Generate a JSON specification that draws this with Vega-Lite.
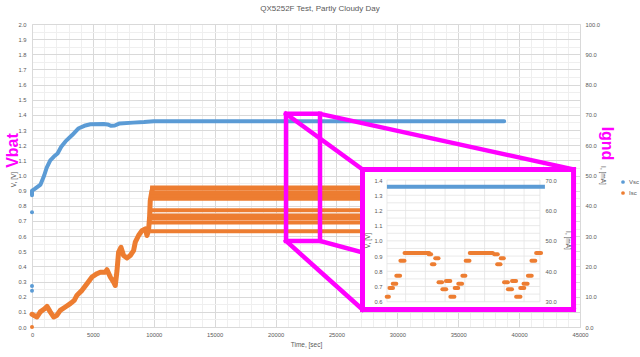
{
  "$schema": "https://vega.github.io/schema/vega-lite/v6.json",
  "width": 548,
  "height": 303,
  "autosize": {"type": "none"},
  "padding": {"left": 32, "top": 24, "right": 60, "bottom": 30},
  "background": "white",
  "title": {"text": "QX5252F Test, Partly Cloudy Day", "fontSize": 8, "color": "#595959", "fontWeight": "normal", "font": "Liberation Sans", "dx": 14, "offset": 8, "anchor": "middle"},
  "config": {
    "view": {"stroke": null},
    "axis": {"labelFont": "Liberation Sans", "labelFontSize": 5.8, "labelColor": "#595959", "titleFont": "Liberation Sans", "titleFontSize": 6.5, "titleColor": "#595959", "titleFontWeight": "normal", "ticks": false, "labelOverlap": false, "labelFlush": false},
    "legend": {"labelFont": "Liberation Sans"}
  },
  "resolve": {"scale": {"x": "independent", "y": "independent"}, "axis": {"x": "independent", "y": "independent"}},
  "datasets": {
    "blue": [
      {"t": 0, "v": 0.87}, {"t": 0, "v": 0.9}, {"t": 200, "v": 0.91}, {"t": 450, "v": 0.925}, {"t": 700, "v": 0.94},
      {"t": 850, "v": 0.97}, {"t": 1000, "v": 1.0}, {"t": 1200, "v": 1.05}, {"t": 1500, "v": 1.1}, {"t": 1800, "v": 1.125},
      {"t": 2100, "v": 1.145}, {"t": 2400, "v": 1.19}, {"t": 2750, "v": 1.225}, {"t": 3300, "v": 1.267}, {"t": 3800, "v": 1.31},
      {"t": 4300, "v": 1.328}, {"t": 4800, "v": 1.338}, {"t": 5900, "v": 1.34}, {"t": 6200, "v": 1.337}, {"t": 6500, "v": 1.328},
      {"t": 6800, "v": 1.33}, {"t": 7200, "v": 1.344}, {"t": 8300, "v": 1.349}, {"t": 9200, "v": 1.353}, {"t": 10000, "v": 1.358},
      {"t": 20000, "v": 1.358}, {"t": 30000, "v": 1.358}, {"t": 38775, "v": 1.358}
    ],
    "bluePts": [
      {"t": 0, "v": 0.24, "series": "Vsc"}, {"t": 0, "v": 0.27, "series": "Vsc"}, {"t": 0, "v": 0.757, "series": "Vsc"}
    ],
    "orange": [
      {"t": 0, "i": 4.2}, {"t": 130, "i": 3.9}, {"t": 410, "i": 3.3}, {"t": 680, "i": 5.0}, {"t": 1035, "i": 6.0},
      {"t": 1230, "i": 6.8}, {"t": 1500, "i": 5.0}, {"t": 1775, "i": 3.3}, {"t": 2050, "i": 3.9}, {"t": 2320, "i": 5.5},
      {"t": 2735, "i": 6.6}, {"t": 3145, "i": 7.7}, {"t": 3470, "i": 8.8}, {"t": 3695, "i": 10.5}, {"t": 4105, "i": 12.1},
      {"t": 4515, "i": 14.3}, {"t": 4925, "i": 16.5}, {"t": 5335, "i": 17.6}, {"t": 5605, "i": 18.1}, {"t": 6015, "i": 18.1},
      {"t": 6160, "i": 18.9}, {"t": 6430, "i": 16.5}, {"t": 6700, "i": 14.8}, {"t": 6840, "i": 13.7}, {"t": 6980, "i": 18.6},
      {"t": 7110, "i": 24.7}, {"t": 7305, "i": 26.3}, {"t": 7520, "i": 23.6}, {"t": 7800, "i": 22.8}, {"t": 8070, "i": 23.6},
      {"t": 8340, "i": 25.2}, {"t": 8480, "i": 28.0}, {"t": 8750, "i": 30.2}, {"t": 9030, "i": 31.8}, {"t": 9300, "i": 32.4},
      {"t": 9440, "i": 30.2}, {"t": 9570, "i": 31.8}, {"t": 9655, "i": 36.2}, {"t": 9710, "i": 41.7}, {"t": 9850, "i": 45.0}
    ],
    "orangePts": [{"t": 0, "i": 0, "series": "Isc"}],
    "bands": [
      {"t0": 9700, "t1": 38775, "i": 31.6}, {"t0": 9700, "t1": 38775, "i": 34.5}, {"t0": 9700, "t1": 38775, "i": 35.9},
      {"t0": 9700, "t1": 38775, "i": 36.4}, {"t0": 9700, "t1": 38775, "i": 36.8}, {"t0": 9700, "t1": 38775, "i": 38.5},
      {"t0": 9700, "t1": 38775, "i": 42.3}, {"t0": 9700, "t1": 38775, "i": 43.5}, {"t0": 9700, "t1": 38775, "i": 44.3},
      {"t0": 9700, "t1": 38775, "i": 45.6}, {"t0": 9700, "t1": 38775, "i": 46.0}
    ],
    "zoomBox": [{"t0": 20860, "t1": 23650, "v0": 0.568, "v1": 1.407}],
    "links": [
      {"t0": 20860, "v0": 1.407, "t1": 27140, "v1": 1.04},
      {"t0": 23650, "v0": 1.407, "t1": 44470, "v1": 1.04},
      {"t0": 20860, "v0": 0.568, "t1": 27140, "v1": 0.1155},
      {"t0": 23650, "v0": 0.568, "t1": 44470, "v1": 0.1155}
    ],
    "insetBox": [{"t0": 27140, "t1": 44470, "v0": 0.1155, "v1": 1.04}],
    "insetGridH": [
      {"v": 0.6}, {"v": 0.65}, {"v": 0.7}, {"v": 0.75}, {"v": 0.8}, {"v": 0.85}, {"v": 0.9}, {"v": 0.95}, {"v": 1.0},
      {"v": 1.05}, {"v": 1.1}, {"v": 1.15}, {"v": 1.2}, {"v": 1.25}, {"v": 1.3}, {"v": 1.35}, {"v": 1.4}
    ],
    "insetGridV": [
      {"t": 20860}, {"t": 21200}, {"t": 21560}, {"t": 21920}, {"t": 22280}, {"t": 22640}, {"t": 23000}, {"t": 23360}, {"t": 23650}
    ],
    "insetBlue": [{"t": 20860, "v": 1.355}, {"t": 23740, "v": 1.355}],
    "insetDash": [
      {"t0": 20855, "t1": 20895, "i": 31.6}, {"t0": 20905, "t1": 20970, "i": 34.5}, {"t0": 20965, "t1": 21030, "i": 35.9},
      {"t0": 21030, "t1": 21100, "i": 38.5}, {"t0": 21105, "t1": 21180, "i": 43.5}, {"t0": 21180, "t1": 21630, "i": 46.0},
      {"t0": 21620, "t1": 21665, "i": 45.6}, {"t0": 21680, "t1": 21725, "i": 42.3}, {"t0": 21740, "t1": 21800, "i": 44.3},
      {"t0": 21800, "t1": 21865, "i": 36.4}, {"t0": 21870, "t1": 21940, "i": 34.1}, {"t0": 21935, "t1": 22015, "i": 36.8},
      {"t0": 22015, "t1": 22090, "i": 31.6}, {"t0": 22095, "t1": 22160, "i": 34.5}, {"t0": 22160, "t1": 22230, "i": 35.9},
      {"t0": 22235, "t1": 22290, "i": 38.5}, {"t0": 22295, "t1": 22365, "i": 43.5}, {"t0": 22370, "t1": 22790, "i": 46.0},
      {"t0": 22815, "t1": 22880, "i": 45.6}, {"t0": 22870, "t1": 22930, "i": 42.3}, {"t0": 22935, "t1": 22990, "i": 44.3},
      {"t0": 22995, "t1": 23065, "i": 36.4}, {"t0": 23065, "t1": 23140, "i": 34.1}, {"t0": 23140, "t1": 23215, "i": 36.8},
      {"t0": 23215, "t1": 23295, "i": 31.6}, {"t0": 23290, "t1": 23365, "i": 34.5}, {"t0": 23350, "t1": 23425, "i": 35.9},
      {"t0": 23430, "t1": 23500, "i": 38.5}, {"t0": 23495, "t1": 23565, "i": 43.5}, {"t0": 23580, "t1": 23670, "i": 46.0}
    ]
  },
  "layer": [
    {
      "data": {"name": "blue"},
      "mark": {"type": "line", "color": "#5B9BD5", "strokeWidth": 4, "strokeCap": "round", "strokeJoin": "round"},
      "encoding": {
        "x": {"field": "t", "type": "quantitative", "scale": {"domain": [0, 45000], "nice": false, "zero": false},
          "axis": {"orient": "bottom", "values": [1000,2000,3000,4000,6000,7000,8000,9000,11000,12000,13000,14000,16000,17000,18000,19000,21000,22000,23000,24000,26000,27000,28000,29000,31000,32000,33000,34000,36000,37000,38000,39000,41000,42000,43000,44000], "grid": true, "gridColor": "#efefef", "labels": false, "domain": false, "title": null}},
        "y": {"field": "v", "type": "quantitative", "scale": {"domain": [0, 2], "nice": false, "zero": false},
          "axis": {"orient": "left", "values": [0.05,0.15,0.25,0.35,0.45,0.55,0.65,0.75,0.85,0.95,1.05,1.15,1.25,1.35,1.45,1.55,1.65,1.75,1.85,1.95], "grid": true, "gridColor": "#efefef", "labels": false, "domain": false,
            "title": "Vbat", "titleColor": "#FF00FF", "titleFontSize": 16, "titleFontWeight": "bold", "titleAngle": -90, "titleX": -15, "titleY": 126, "titleAlign": "center", "titleBaseline": "alphabetic"}},
        "order": {"field": "t", "type": "quantitative"}
      }
    },
    {
      "data": {"name": "bluePts"},
      "mark": {"type": "circle", "size": 16, "opacity": 1},
      "encoding": {
        "x": {"field": "t", "type": "quantitative", "scale": {"domain": [0, 45000], "nice": false, "zero": false},
          "axis": {"orient": "bottom", "values": [0,5000,10000,15000,20000,25000,30000,35000,40000,45000], "format": "d", "grid": true, "gridColor": "#d9d9d9", "domain": true, "domainColor": "#d9d9d9", "labelPadding": 4, "title": "Time, [sec]", "titlePadding": 5}},
        "y": {"field": "v", "type": "quantitative", "scale": {"domain": [0, 2], "nice": false, "zero": false},
          "axis": {"orient": "left", "values": [0,0.1,0.2,0.3,0.4,0.5,0.6,0.7,0.8,0.9,1.0,1.1,1.2,1.3,1.4,1.5,1.6,1.7,1.8,1.9,2.0], "format": ".1f", "grid": true, "gridColor": "#d9d9d9", "domain": true, "domainColor": "#d9d9d9", "labelPadding": 6, "title": "V, [V]", "titleX": -16, "titleY": 155}},
        "color": {"field": "series", "type": "nominal", "scale": {"domain": ["Vsc", "Isc"], "range": ["#5B9BD5", "#ED7D31"]},
          "legend": {"orient": "none", "legendX": 588, "legendY": 155, "direction": "vertical", "title": null, "labelFontSize": 6, "labelColor": "#595959", "symbolType": "circle", "symbolSize": 14, "rowPadding": 5, "padding": 0, "labelOffset": 3}}
      }
    },
    {
      "data": {"name": "orange"},
      "mark": {"type": "line", "color": "#ED7D31", "strokeWidth": 5, "strokeCap": "round", "strokeJoin": "round"},
      "encoding": {
        "x": {"field": "t", "type": "quantitative", "scale": {"domain": [0, 45000], "nice": false, "zero": false}, "axis": null},
        "y": {"field": "i", "type": "quantitative", "scale": {"domain": [0, 100], "nice": false, "zero": false},
          "axis": {"orient": "right", "values": [0,10,20,30,40,50,60,70,80,90,100], "format": ".1f", "grid": false, "domain": true, "domainColor": "#d9d9d9", "labelPadding": 5, "title": "I, [mA]", "titleAngle": 90, "titleX": 19, "titleY": 151}},
        "order": {"field": "t", "type": "quantitative"}
      }
    },
    {
      "data": {"name": "orangePts"},
      "mark": {"type": "circle", "size": 16, "opacity": 1},
      "encoding": {
        "x": {"field": "t", "type": "quantitative", "scale": {"domain": [0, 45000], "nice": false, "zero": false}, "axis": null},
        "y": {"field": "i", "type": "quantitative", "scale": {"domain": [0, 100], "nice": false, "zero": false},
          "axis": {"orient": "right", "labels": false, "grid": false, "domain": false, "title": "Ignd", "titleColor": "#FF00FF", "titleFontSize": 16, "titleFontWeight": "bold", "titleAngle": 90, "titleX": 21, "titleY": 119, "titleAlign": "center", "titleBaseline": "alphabetic"}},
        "color": {"field": "series", "type": "nominal"}
      }
    },
    {
      "data": {"name": "bands"},
      "mark": {"type": "rule", "color": "#ED7D31", "strokeWidth": 4},
      "encoding": {
        "x": {"field": "t0", "type": "quantitative", "scale": {"domain": [0, 45000], "nice": false, "zero": false}, "axis": null},
        "x2": {"field": "t1"},
        "y": {"field": "i", "type": "quantitative", "scale": {"domain": [0, 100], "nice": false, "zero": false}, "axis": null}
      }
    },
    {
      "data": {"name": "zoomBox"},
      "mark": {"type": "rect", "fill": null, "fillOpacity": 0, "stroke": "#FF00FF", "strokeWidth": 4.5},
      "encoding": {
        "x": {"field": "t0", "type": "quantitative", "scale": {"domain": [0, 45000], "nice": false, "zero": false}, "axis": null},
        "x2": {"field": "t1"},
        "y": {"field": "v0", "type": "quantitative", "scale": {"domain": [0, 2], "nice": false, "zero": false}, "axis": null},
        "y2": {"field": "v1"}
      }
    },
    {
      "data": {"name": "links"},
      "mark": {"type": "rule", "color": "#FF00FF", "strokeWidth": 4.5, "strokeCap": "square"},
      "encoding": {
        "x": {"field": "t0", "type": "quantitative", "scale": {"domain": [0, 45000], "nice": false, "zero": false}, "axis": null},
        "x2": {"field": "t1"},
        "y": {"field": "v0", "type": "quantitative", "scale": {"domain": [0, 2], "nice": false, "zero": false}, "axis": null},
        "y2": {"field": "v1"}
      }
    },
    {
      "data": {"name": "insetBox"},
      "mark": {"type": "rect", "fill": "white", "stroke": "#FF00FF", "strokeWidth": 5},
      "encoding": {
        "x": {"field": "t0", "type": "quantitative", "scale": {"domain": [0, 45000], "nice": false, "zero": false}, "axis": null},
        "x2": {"field": "t1"},
        "y": {"field": "v0", "type": "quantitative", "scale": {"domain": [0, 2], "nice": false, "zero": false}, "axis": null},
        "y2": {"field": "v1"}
      }
    },
    {
      "data": {"name": "insetGridH"},
      "mark": {"type": "rule", "color": "#e3e3e3", "strokeWidth": 0.8},
      "encoding": {
        "x": {"datum": 20860, "type": "quantitative", "scale": {"domain": [14387, 24380], "nice": false, "zero": false}, "axis": null},
        "x2": {"datum": 23650},
        "y": {"field": "v", "type": "quantitative", "scale": {"domain": [0.4337, 2.4258], "nice": false, "zero": false}, "axis": null}
      }
    },
    {
      "data": {"name": "insetGridV"},
      "mark": {"type": "rule", "color": "#e3e3e3", "strokeWidth": 0.8},
      "encoding": {
        "x": {"field": "t", "type": "quantitative", "scale": {"domain": [14387, 24380], "nice": false, "zero": false}, "axis": null},
        "y": {"datum": 0.6, "type": "quantitative", "scale": {"domain": [0.4337, 2.4258], "nice": false, "zero": false}, "axis": null},
        "y2": {"datum": 1.4}
      }
    },
    {
      "data": {"name": "insetBlue"},
      "mark": {"type": "line", "color": "#5B9BD5", "strokeWidth": 4},
      "encoding": {
        "x": {"field": "t", "type": "quantitative", "scale": {"domain": [14387, 24380], "nice": false, "zero": false}, "axis": null},
        "y": {"field": "v", "type": "quantitative", "scale": {"domain": [0.4337, 2.4258], "nice": false, "zero": false},
          "axis": {"orient": "left", "offset": -355, "zindex": 1, "values": [0.6,0.7,0.8,0.9,1.0,1.1,1.2,1.3,1.4], "format": ".1f", "grid": false, "domain": false, "labelPadding": 5, "title": "V, [V]", "titleX": -17, "titleY": 216}}
      }
    },
    {
      "data": {"name": "insetDash"},
      "mark": {"type": "rule", "color": "#ED7D31", "strokeWidth": 4, "strokeCap": "round"},
      "encoding": {
        "x": {"field": "t0", "type": "quantitative", "scale": {"domain": [14387, 24380], "nice": false, "zero": false}, "axis": null},
        "x2": {"field": "t1"},
        "y": {"field": "i", "type": "quantitative", "scale": {"domain": [21.685, 121.29], "nice": false, "zero": false},
          "axis": {"orient": "right", "offset": -40, "zindex": 1, "values": [30,40,50,60,70], "format": ".1f", "grid": false, "domain": false, "labelPadding": 5, "title": "I, [mA]", "titleAngle": 90, "titleX": 24, "titleY": 216}}
      }
    }
  ]
}
